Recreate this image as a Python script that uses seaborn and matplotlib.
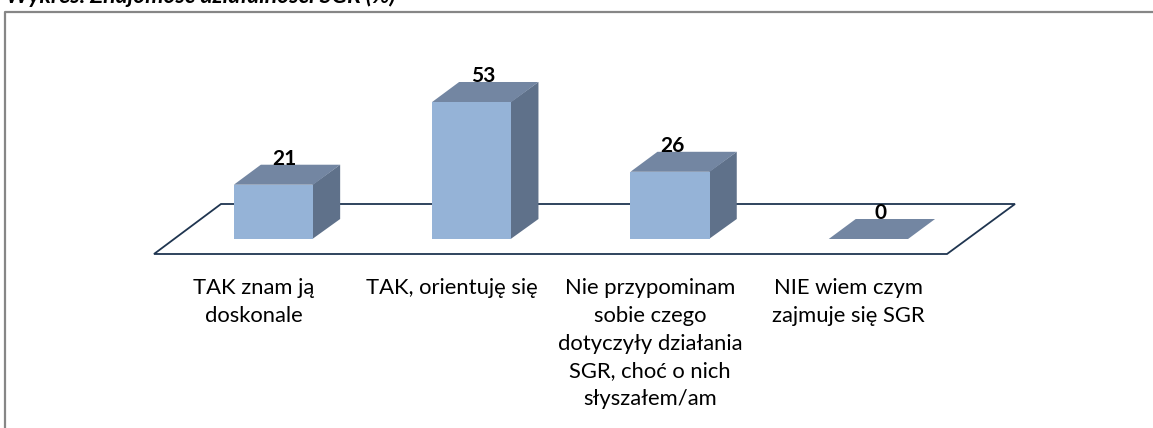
import numpy as np
import pandas as pd
import matplotlib
matplotlib.use('Agg')
import matplotlib.pyplot as plt
import seaborn as sns
from matplotlib.patches import Polygon

categories = ['TAK znam ją\ndoskonale', 'TAK, orientuję się',
              'Nie przypominam\nsobie czego\ndotyczyły działania\nSGR, choć o nich\nsłyszałem/am',
              'NIE wiem czym\nzajmuje się SGR']
values = [21, 53, 26, 0]
title_text = 'Wykres. Znajomość działalności SGR (%)'

sns.set_theme(style='white')
plt.rcParams['font.family'] = ['Lato', 'DejaVu Sans']

W, H = 1153, 428
fig = plt.figure(figsize=(W / 100, H / 100), dpi=100)
ax = fig.add_axes([0, 0, 1, 1])

df = pd.DataFrame({'kat': categories, 'val': values})
sns.barplot(data=df, x='kat', y='val', color='#95B3D7', saturation=1, width=0.4, ax=ax, zorder=3, linewidth=0)

# pixel -> data scale
sx, sy = 198.3, 2.585
ax.set_xlim(-273.5 / sx, (W - 273.5) / sx)
ax.set_ylim(-(H - 239) / sy, 239 / sy)
ax.axis('off')

# floor
dx, dy = 27 / sx, 20 / sy
fl = [(154, 254), (947, 254), (1015, 204), (221, 204)]
fl = [((px - 273.5) / sx, (239 - py) / sy) for px, py in fl]
ax.add_patch(Polygon(fl, closed=True, fill=False, ec='#1F3550', lw=1.3, zorder=1))

# labels sit a bit off the bars, like in the original
label_shift = [11, 11, 2.5, 12.5]

# 3d faces
for i, v in enumerate(values):
    l, r = i - 0.2, i + 0.2
    if v > 0:
        # start slightly behind the front face so no seam shows the floor line
        ax.add_patch(Polygon([(r - 0.004, 0), (r + dx, dy), (r + dx, v + dy), (r - 0.004, v)], fc='#5F718A', ec='none',
                             zorder=2))
    ax.add_patch(Polygon([(l, v), (r, v), (r + dx, v + dy), (l + dx, v + dy)], fc='#7386A2', ec='none', zorder=3))
    ax.text(i + label_shift[i] / sx, v + dy, str(v), ha='center', va='baseline', fontsize=15, fontweight='bold',
            color='black', zorder=4)
    ax.text(i - 20 / sx, -39 / sy, categories[i], ha='center', va='top', fontsize=15.8, color='black', linespacing=1.49)

# frame, open on the right and bottom
frame_x = [4.5, 4.5, W]
frame_y = [H, 12, 12]
ax.plot([(p - 273.5) / sx for p in frame_x], [(239 - p) / sy for p in frame_y], color='#868686', lw=1.6,
        clip_on=False)
fig.text(6 / W, 1 - 3 / H, title_text, ha='left', va='baseline', fontsize=16.6, fontweight='bold', fontstyle='italic',
         color='black')

fig.savefig('out.png', dpi=100)
